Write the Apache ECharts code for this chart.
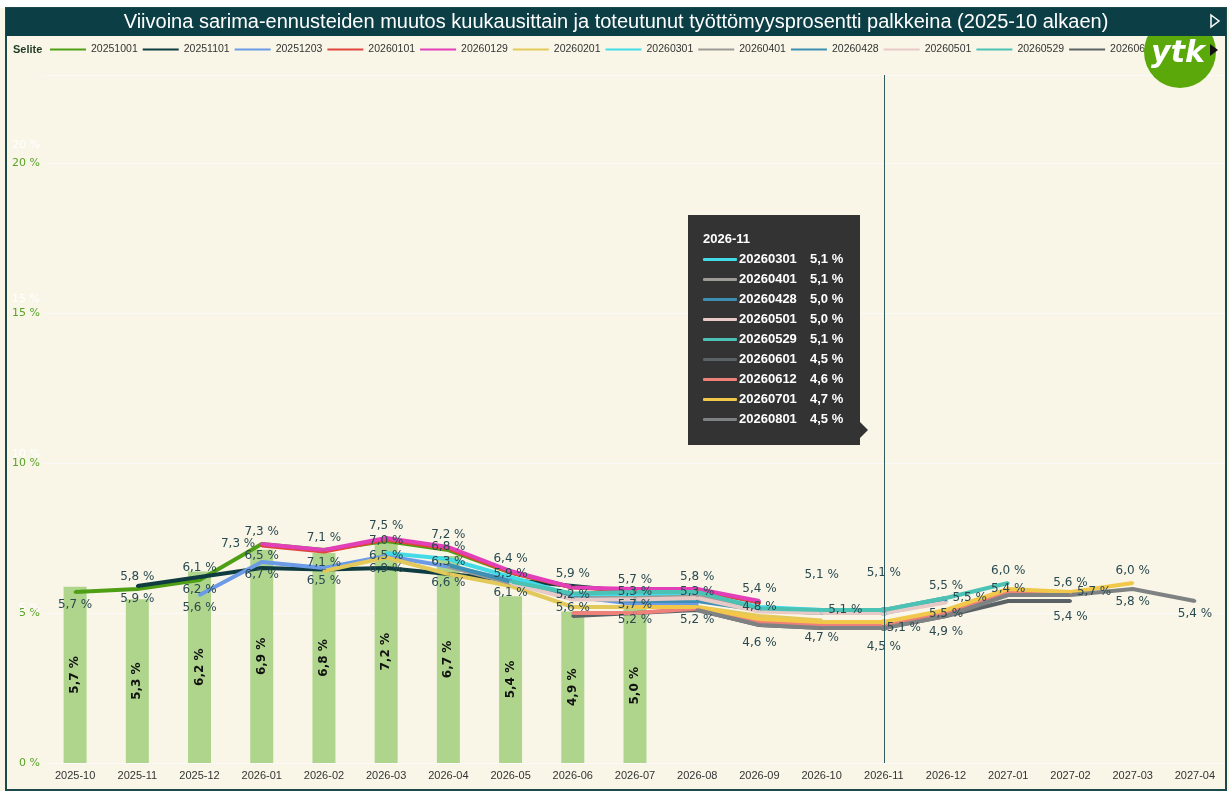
<!DOCTYPE html>
<html>
<head>
<meta charset="utf-8">
<script src="https://cdn.jsdelivr.net/npm/echarts@6/dist/echarts.min.js"></script>
<style>
  html, body { margin: 0; padding: 0; background: #ffffff; }
  #app { width: 1229px; height: 797px; }
</style>
</head>
<body>
<div id="app"></div>
<script>
const categories = ['2025-10', '2025-11', '2025-12', '2026-01', '2026-02', '2026-03', '2026-04',
  '2026-05', '2026-06', '2026-07', '2026-08', '2026-09', '2026-10', '2026-11', '2026-12',
  '2027-01', '2027-02', '2027-03', '2027-04'];

// toteutunut työttömyysprosentti (palkit)
const actualRate = [5.7, 5.3, 6.2, 6.9, 6.8, 7.2, 6.7, 5.4, 4.9, 5.0];

// sarima-ennusteet (viivat), null = ei arvoa
const _ = null;
const f20251001 = [5.7, 5.8, 6.1, 7.3, 7.1, 7.4, 7.1, 6.35, 5.85, _, _, _, _, _, _, _, _, _, _];
const f20251101 = [_, 5.9, 6.2, 6.5, 6.45, 6.5, 6.3, 6.1, 5.9, 5.7, _, _, _, _, _, _, _, _, _];
const f20251203 = [_, _, 5.6, 6.7, 6.5, 6.9, 6.55, 6.1, 5.55, 5.3, 5.3, _, _, _, _, _, _, _, _];
const f20260101 = [_, _, _, 7.25, 7.05, 7.45, 7.15, 6.35, 5.85, 5.75, 5.75, 5.35, _, _, _, _, _, _, _];
const f20260129 = [_, _, _, 7.3, 7.1, 7.5, 7.2, 6.4, 5.85, 5.8, 5.8, 5.4, _, _, _, _, _, _, _];
const f20260201 = [_, _, _, _, 6.4, 6.85, 6.3, 5.9, 5.2, 5.2, 5.2, 4.9, 4.75, _, _, _, _, _, _];
const f20260301 = [_, _, _, _, _, 7.0, 6.8, 6.2, 5.6, 5.6, 5.65, 5.2, 5.1, 5.1, 5.5, _, _, _, _];
const f20260401 = [_, _, _, _, _, _, 6.55, 6.0, 5.5, 5.5, 5.55, 5.1, 5.0, 5.1, 5.5, _, _, _, _];
const f20260428 = [_, _, _, _, _, _, 6.6, 6.05, 5.5, 5.4, 5.4, 5.1, 5.0, 5.0, 5.4, _, _, _, _];
const f20260501 = [_, _, _, _, _, _, _, 6.0, 5.45, 5.45, 5.5, 5.05, 5.0, 5.0, 5.35, _, _, _, _];
const f20260529 = [_, _, _, _, _, _, _, 6.05, 5.65, 5.7, 5.7, 5.15, 5.1, 5.1, 5.5, 6.0, _, _, _];
const f20260601 = [_, _, _, _, _, _, _, _, 4.9, 5.0, 5.1, 4.6, 4.5, 4.5, 4.9, 5.4, 5.4, _, _];
const f20260612 = [_, _, _, _, _, _, _, _, 5.0, 5.0, 5.15, 4.7, 4.6, 4.6, 5.0, 5.7, 5.6, _, _];
const f20260701 = [_, _, _, _, _, _, _, _, _, 5.2, 5.2, 4.8, 4.7, 4.7, 5.1, 5.8, 5.7, 6.0, _];
const f20260801 = [_, _, _, _, _, _, _, _, _, _, 5.1, 4.6, 4.5, 4.5, 4.9, 5.6, 5.6, 5.8, 5.4];

const forecastNames = ['20251001', '20251101', '20251203', '20260101', '20260129', '20260201',
  '20260301', '20260401', '20260428', '20260501', '20260529', '20260601', '20260612',
  '20260701', '20260801'];
const forecastValues = [f20251001, f20251101, f20251203, f20260101, f20260129, f20260201,
  f20260301, f20260401, f20260428, f20260501, f20260529, f20260601, f20260612,
  f20260701, f20260801];
const forecastColors = ['#4f9f14', '#0f3c40', '#6b9be6', '#e0463c', '#e23fb8', '#e3c95a',
  '#42dbe6', '#9e9a96', '#3d8fb3', '#e9c9c5', '#4cc2b4', '#5b6266', '#ef817b',
  '#f2c84b', '#7f8283'];

// mihin pisteisiin arvo näytetään: [indeksi, paikka, etäisyys, siirto]
const labelPlan = {
  '20251001': [[0, 'bottom'], [1, 'top'], [2, 'top'], [3, 'left'], [4, 'bottom']],
  '20251101': [[1, 'bottom'], [2, 'bottom'], [3, 'top'], [5, 'top'], [8, 'top'], [9, 'top']],
  '20251203': [[2, 'bottom'], [3, 'bottom'], [4, 'bottom'], [5, 'bottom'], [7, 'bottom'], [9, 'top'], [10, 'top']],
  '20260129': [[3, 'top'], [4, 'top'], [5, 'top'], [6, 'top'], [7, 'top'], [10, 'top'], [11, 'top']],
  '20260201': [[6, 'top'], [7, 'top'], [8, 'top'], [9, 'bottom'], [10, 'bottom']],
  '20260301': [[5, 'top'], [6, 'top'], [8, 'bottom'], [12, 'right'], [14, 'right']],
  '20260401': [[13, 'bottom', 5, [20, 4]], [14, 'bottom', 8]],
  '20260428': [[6, 'bottom', 10]],
  '20260529': [[9, 'bottom'], [12, 'top', 28], [13, 'top', 28], [14, 'top'], [15, 'top']],
  '20260601': [[11, 'bottom', 10], [13, 'bottom', 10], [14, 'bottom', 8], [15, 'top'], [16, 'bottom', 8]],
  '20260701': [[11, 'top'], [12, 'bottom', 8], [16, 'right'], [17, 'top']],
  '20260801': [[16, 'top'], [17, 'bottom'], [18, 'bottom']],
};

const fmt = (v) => v.toFixed(1).replace('.', ',') + ' %';

const chart = echarts.init(document.getElementById('app'));

const gridTop = 75;
const gridBottom = 34;
const plotH = 797 - gridTop - gridBottom;

const lineSeries = forecastNames.map((name, i) => {
  const plan = labelPlan[name] || [];
  const color = forecastColors[i];
  return {
    type: 'line',
    name: name,
    yAxisIndex: 0,
    symbol: 'circle',
    symbolSize: 3,
    showSymbol: true,
    lineStyle: { width: 4, color: color },
    itemStyle: { color: color, borderWidth: 0 },
    emphasis: { disabled: true },
    label: {
      show: false,
      formatter: (p) => fmt(p.value),
      color: '#2a4a50',
      fontSize: 12,
      fontFamily: 'DejaVu Sans',
    },
    data: forecastValues[i].map((v, j) => {
      const spec = plan.find((s) => s[0] === j);
      if (!spec || v == null) {
        return v;
      }
      return {
        value: v,
        label: {
          show: true,
          position: spec[1],
          distance: spec[2] || 5,
          offset: spec[3] || [0, 0],
        },
      };
    }),
  };
});

const arrow = '<div style="position:absolute;right:-8px;top:207px;width:0;height:0;'
  + 'border-top:8px solid transparent;border-bottom:8px solid transparent;border-left:8px solid #333"></div>';

const option = {
  animation: false,
  backgroundColor: '#f9f6e8',
  grid: { left: 44, right: 3, top: gridTop, bottom: gridBottom },
  legend: {
    data: forecastNames.slice(0, 12),
    left: 45,
    top: 39,
    width: 2000,
    icon: 'rect',
    itemWidth: 36,
    itemHeight: 2,
    itemGap: 5,
    selectedMode: false,
    textStyle: {
      color: '#333',
      fontSize: 10.5,
      fontFamily: 'Liberation Sans',
    },
  },
  tooltip: {
    trigger: 'axis',
    triggerOn: 'none',
    alwaysShowContent: true,
    transitionDuration: 0,
    position: [688, 215],
    backgroundColor: '#333333',
    borderWidth: 0,
    padding: [14, 15, 16, 15],
    extraCssText: 'box-shadow:none;border-radius:0;width:142px;',
    textStyle: { color: '#ffffff', fontSize: 13, fontFamily: 'Liberation Sans', fontWeight: 'bold' },
    axisPointer: {
      type: 'line',
      lineStyle: { color: '#2e5c61', width: 1, type: 'solid' },
      label: { show: false },
    },
    formatter: function (params) {
      const rows = params.filter((p) => p.seriesType === 'line' && p.value != null && !isNaN(p.value));
      let html = '<div style="height:20px;line-height:20px;font-weight:bold">' + params[0].axisValue + '</div>';
      rows.forEach((p) => {
        html += '<div style="height:20px;line-height:20px;white-space:nowrap">'
          + '<span style="display:inline-block;width:34px;height:3px;background:' + p.color
          + ';vertical-align:middle;margin-right:2px;border-radius:1px"></span>'
          + '<span style="display:inline-block;width:71px">' + p.seriesName + '</span>'
          + fmt(p.value) + '</div>';
      });
      return html + arrow;
    },
  },
  xAxis: {
    type: 'category',
    data: categories,
    axisLine: { show: false },
    axisTick: { show: false },
    axisLabel: {
      color: '#333',
      fontSize: 11,
      margin: 7,
      fontFamily: 'Liberation Sans',
    },
  },
  yAxis: [
    {
      type: 'value',
      min: 0,
      max: plotH / 30,
      interval: 5,
      axisLine: { show: false },
      axisTick: { show: false },
      axisLabel: {
        showMaxLabel: false,
        color: '#5aa32a',
        fontSize: 11,
        margin: 4,
        fontFamily: 'DejaVu Sans',
        formatter: (v) => v + ' %',
      },
      splitLine: { lineStyle: { color: '#ffffff', type: 'dotted', width: 1 } },
    },
    {
      type: 'value',
      position: 'left',
      min: 0,
      max: plotH / 30.9,
      interval: 5,
      axisLine: { show: false },
      axisTick: { show: false },
      splitLine: { show: false },
      axisLabel: {
        showMaxLabel: false,
        showMinLabel: false,
        color: '#ffffff',
        fontSize: 11,
        margin: 4,
        fontFamily: 'DejaVu Sans',
        formatter: (v) => v + ' %',
      },
    },
  ],
  graphic: [
    { type: 'rect', z: 90, silent: true, shape: { x: 0, y: 0, width: 1229, height: 8 }, style: { fill: '#ffffff' } },
    { type: 'rect', z: 90, silent: true, shape: { x: 0, y: 791, width: 1229, height: 6 }, style: { fill: '#ffffff' } },
    {
      type: 'rect', z: 91, silent: true,
      shape: { x: 6, y: 8, width: 1220, height: 782 },
      style: { fill: 'none', stroke: '#1c4a4c', lineWidth: 2 },
    },
    { type: 'circle', z: 100, silent: true, shape: { cx: 1180, cy: 52, r: 36 }, style: { fill: '#5aa80a' } },
    {
      type: 'text', z: 101, silent: true, x: 1178, y: 54,
      style: {
        text: 'ytk', fill: '#ffffff', font: 'italic bold 30px "DejaVu Sans"',
        align: 'center', verticalAlign: 'middle',
      },
    },
    {
      type: 'polygon', z: 101, silent: true,
      shape: { points: [[1210, 44], [1218, 50], [1210, 56]] },
      style: { fill: '#111111' },
    },
    { type: 'rect', z: 110, silent: true, shape: { x: 6, y: 8, width: 1220, height: 28 }, style: { fill: '#0c3e45' } },
    {
      type: 'text', z: 111, silent: true, x: 616, y: 22,
      style: {
        text: 'Viivoina sarima-ennusteiden muutos kuukausittain ja toteutunut työttömyysprosentti palkkeina (2025-10 alkaen)',
        fill: '#ffffff', font: '20px "Liberation Sans"', align: 'center', verticalAlign: 'middle',
      },
    },
    {
      type: 'polygon', z: 111, silent: true,
      shape: { points: [[1211, 15], [1219, 21], [1211, 27]] },
      style: { fill: '#0c3e45', stroke: '#ffffff', lineWidth: 1.5 },
    },
    {
      type: 'text', z: 95, silent: true, x: 13, y: 50,
      style: {
        text: 'Selite', fill: '#1f3a22', font: 'bold 11px "Liberation Sans"',
        align: 'left', verticalAlign: 'middle',
      },
    },
  ],
  series: [
    {
      type: 'bar',
      name: 'Toteutunut',
      yAxisIndex: 1,
      barWidth: 23,
      itemStyle: { color: '#aed58b' },
      emphasis: { disabled: true },
      label: {
        show: true,
        position: 'inside',
        rotate: 90,
        color: '#111111',
        fontSize: 12,
        fontWeight: 'bold',
        fontFamily: 'DejaVu Sans',
        formatter: (p) => fmt(p.value),
      },
      data: actualRate,
    },
  ].concat(lineSeries),
};

chart.setOption(option);
chart.dispatchAction({
  type: 'showTip',
  seriesIndex: 1 + forecastNames.indexOf('20260529'),
  dataIndex: categories.indexOf('2026-11'),
});
</script>
</body>
</html>
